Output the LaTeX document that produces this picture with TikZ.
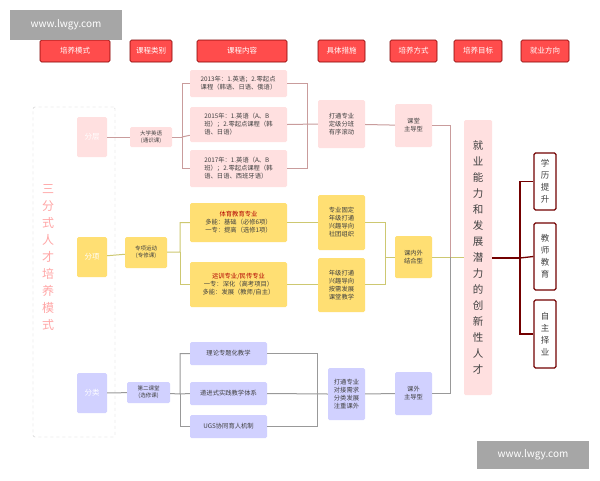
\documentclass[tikz,border=0pt]{standalone}
\usepackage{fontspec}
\setmainfont{Noto Sans CJK SC}
\begin{document}
\newcommand\B[7]{\node[#2,minimum width={(#5-#3)*1pt},minimum height={(#6-#4)*1pt}] (#1) at ({(#3+#5)/2},{(#4+#6)/2}) {#7};}
\begin{tikzpicture}[x=1pt,y=-1pt,
 box/.style={rectangle,rounded corners=1.5pt,inner sep=1pt,align=center,font=\fontsize{6.3}{8}\selectfont,text=black!75},
 hdr/.style={box,fill=red!70!white,draw=red!50!black,line width=0.6pt,text=white,font=\fontsize{7.5}{9}\selectfont},
 pk/.style={box,fill=red!12!white},
 yl/.style={box,fill=orange!45!yellow!55!white},
 bl/.style={box,fill=blue!18!white},
 lvl/.style={box,text=white,font=\fontsize{7.5}{9}\selectfont},
 job/.style={box,fill=white,draw=red!45!black,line width=1.2pt,font=\fontsize{8.5}{12}\selectfont},
 pl/.style={draw=red!30!gray!60!white,line width=1pt},
 yln/.style={draw=olive!45!white,line width=1pt},
 gl/.style={draw=gray!80,line width=1pt},
 rl/.style={draw=red!45!black,line width=1.3pt},
 wm/.style={fill=gray!70,text=white,inner sep=0pt,font=\fontsize{10}{12}\selectfont}]
\useasboundingbox (0,0) rectangle (600,480);
\fill[white] (0,0) rectangle (600,480);
% headers
\B{h1}{hdr}{40}{40}{110}{62}{培养模式}
\B{h2}{hdr}{130}{40}{172}{62}{课程类别}
\B{h3}{hdr}{197}{40}{287}{62}{课程内容}
\B{h4}{hdr}{318}{40}{365}{62}{具体措施}
\B{h5}{hdr}{390}{40}{437}{62}{培养方式}
\B{h6}{hdr}{454}{40}{502}{62}{培养目标}
\B{h7}{hdr}{521}{40}{569}{62}{就业方向}
% dashed frame
\B{frame}{box,draw=gray!40,dashed}{33}{107}{115}{437}{}
\node[font=\fontsize{12}{17}\selectfont,text=red!35!white,align=center] (title) at (48,258) {三\\分\\式\\人\\才\\培\\养\\模\\式};
\B{L1}{lvl,fill=red!12!white}{77}{117}{107}{157}{分层}
\B{L2}{lvl,fill=orange!45!yellow!55!white}{77}{237}{107}{277}{分项}
\B{L3}{lvl,fill=blue!18!white}{77}{373}{107}{413}{分类}
% category
\B{c1}{pk,font=\fontsize{5.5}{7}\selectfont}{130}{127}{172}{147}{大学英语\\(通识课)}
\B{c2}{yl,font=\fontsize{5.5}{7}\selectfont}{125}{237}{167}{268}{专项运动\\(专修课)}
\B{c3}{bl,font=\fontsize{5.5}{7}\selectfont}{127}{382}{170}{403}{第二课堂\\(选修课)}
% content
\B{k1}{pk,align=left}{190}{70}{287}{97}{2013年：1.英语；2.零起点\\课程（韩语、日语、俄语）}
\B{k2}{pk,align=left}{190}{107}{287}{142}{2015年：1.英语（A、B\\班）；2.零起点课程（韩\\语、日语）}
\B{k3}{pk,align=left}{190}{150}{287}{187}{2017年：1.英语（A、B\\班）；2.零起点课程（韩\\语、日语、西班牙语）}
\B{k4}{yl}{190}{203}{287}{242}{\textcolor{red!70!black}{体育教育专业}\\多能：基础（必修6项）\\一专：提高（选修1项）}
\B{k5}{yl}{190}{262}{287}{307}{\textcolor{red!70!black}{运训专业/民传专业}\\一专：深化（高考项目）\\多能：发展（教师/自主）}
\B{k6}{bl}{190}{342}{267}{365}{理论专题化教学}
\B{k7}{bl}{190}{382}{267}{405}{递进式实践教学体系}
\B{k8}{bl}{190}{415}{267}{438}{UGS协同育人机制}
% measures
\B{m1}{pk}{318}{100}{365}{148}{打通专业\\定级分班\\有序滚动}
\B{m2}{yl}{318}{195}{365}{250}{专业固定\\年级打通\\兴趣导向\\社团组织}
\B{m3}{yl}{318}{258}{365}{312}{年级打通\\兴趣导向\\按需发展\\课堂教学}
\B{m4}{bl}{328}{368}{365}{420}{打通专业\\对接需求\\分类发展\\注重课外}
% methods
\B{w1}{pk}{395}{104}{432}{147}{课堂\\主导型}
\B{w2}{yl}{395}{236}{432}{278}{课内外\\结合型}
\B{w3}{bl}{395}{372}{432}{415}{课外\\主导型}
% goal
\B{g}{pk,font=\fontsize{10.5}{16}\selectfont}{464}{120}{492}{395}{就\\业\\能\\力\\和\\发\\展\\潜\\力\\的\\创\\新\\性\\人\\才}
% jobs
\B{j1}{job}{534}{153}{556}{210}{学\\历\\提\\升}
\B{j2}{job}{534}{223}{556}{290}{教\\师\\教\\育}
\B{j3}{job}{534}{300}{556}{368}{自\\主\\择\\业}
% connectors pink
\draw[pl] (L1) -- (c1);
\draw[pl] (c1) -- (182,137) |- (k1); \draw[pl] (182,137) |- (k3); \draw[pl] (182,137) -- (k2);
\draw[pl] (k1) -| (307,124); \draw[pl] (k3) -| (307,124); \draw[pl] (k2.east) -- (m1.west);
\draw[pl] (m1) -- (w1);
\draw[pl] (w1.east) -| (450,257);
% yellow
\draw[yln] (L2) -- (c2);
\draw[yln] (c2) -- (180,252) |- (k4); \draw[yln] (180,252) |- (k5);
\draw[yln] (k4.east) -- (m2.west |- k4.east); \draw[yln] (k5.east) -- (m3.west |- k5.east);
\draw[yln] (m2.east |- k4.east) -| (385,257); \draw[yln] (m3.east |- k5.east) -| (385,257);
\draw[yln] (385,257) -- (w2.west);
\draw[yln] (w2.east) -- (g.west |- w2.east);
% blue/gray
\draw[gl] (L3) -- (c3);
\draw[gl] (c3) -- (180,394) |- (k6); \draw[gl] (180,394) |- (k8); \draw[gl] (k7.west) -- (180,394);
\draw[gl] (k6) -| (317,394); \draw[gl] (k8) -| (317,394); \draw[gl] (k7.east) -- (m4.west);
\draw[gl] (m4) -- (w3);
\draw[gl] (w3.east) -| (450,257);
% red
\draw[rl] (g.east |- 0,258) -- (520,258);
\draw[rl] (j1.west) -| (520,258); \draw[rl] (j3.west) -| (520,258); \draw[rl] (520,258) -- (j2.west);
% watermarks
\node[wm,minimum width=112pt,minimum height=30pt] (wm1) at (66,25) {www.lwgy.com};
\node[wm,minimum width=112pt,minimum height=28pt] (wm2) at (533,455) {www.lwgy.com};
\end{tikzpicture}
\end{document}
